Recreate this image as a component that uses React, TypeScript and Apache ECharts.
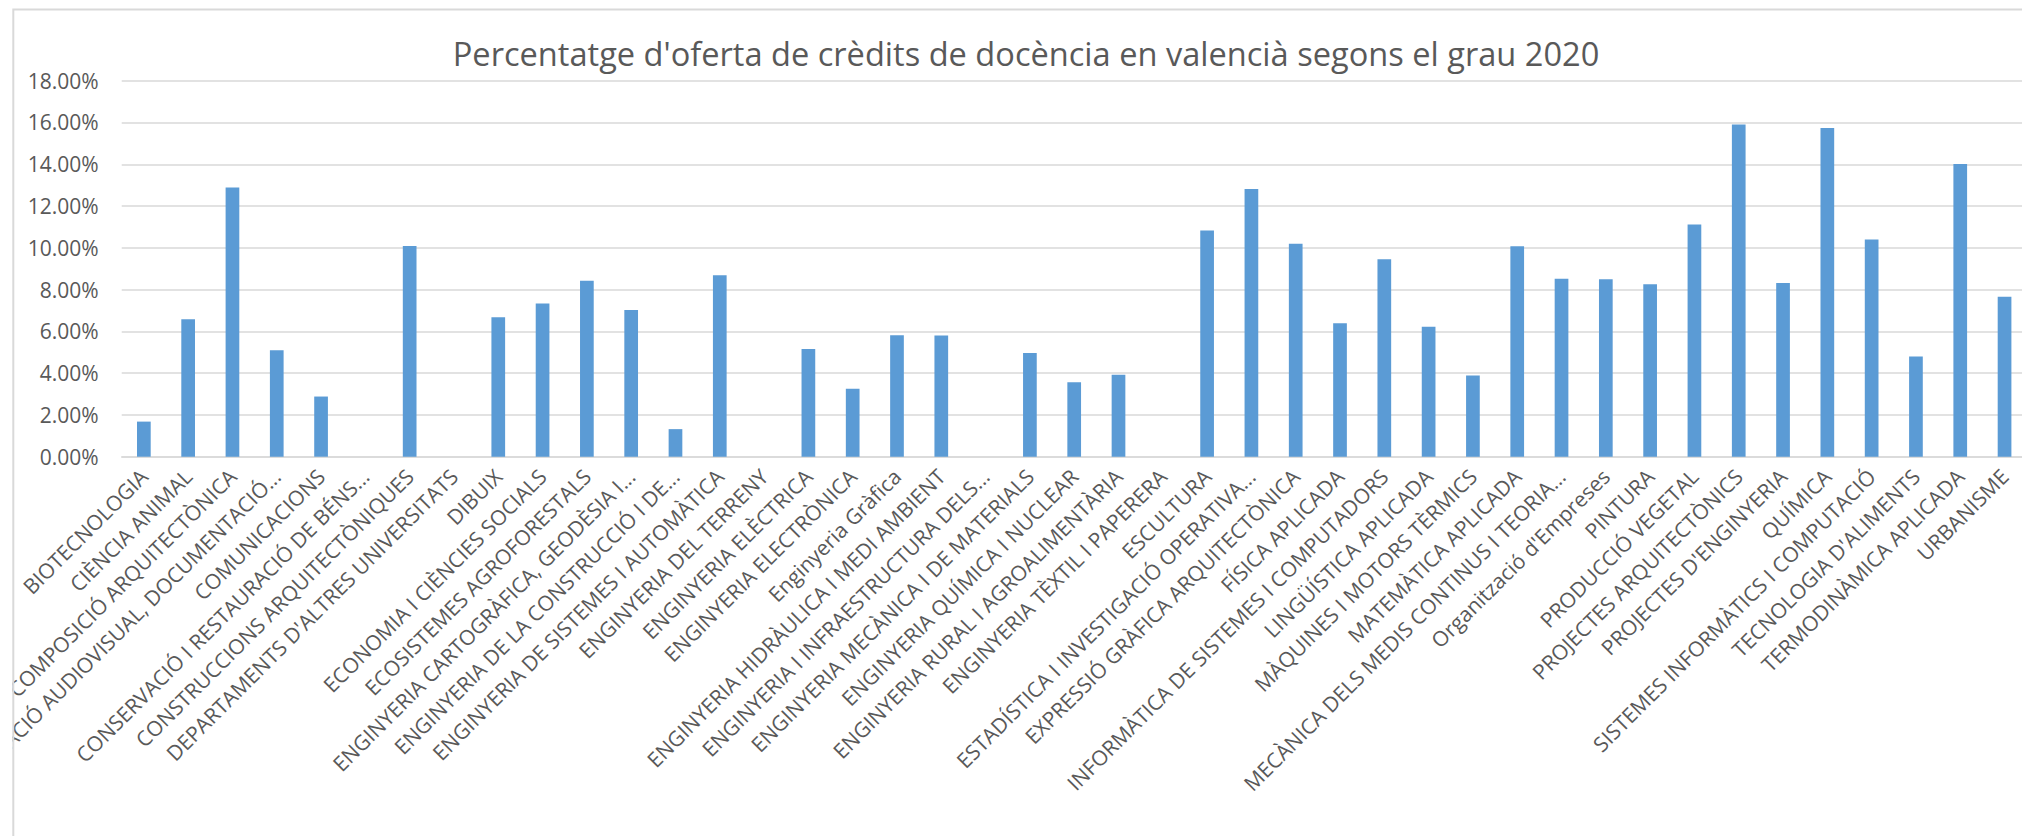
import React, { useEffect, useRef } from "react";
import * as echarts from "echarts";

const chartTitle =
  "Percentatge d'oferta de crèdits de docència en valencià segons el grau 2020";

const categories = [
  "BIOTECNOLOGIA",
  "CIÈNCIA ANIMAL",
  "COMPOSICIÓ ARQUITECTÒNICA",
  "COMUNICACIÓ AUDIOVISUAL, DOCUMENTACIÓ...",
  "COMUNICACIONS",
  "CONSERVACIÓ I RESTAURACIÓ DE BÉNS...",
  "CONSTRUCCIONS ARQUITECTÒNIQUES",
  "DEPARTAMENTS D'ALTRES UNIVERSITATS",
  "DIBUIX",
  "ECONOMIA I CIÈNCIES SOCIALS",
  "ECOSISTEMES AGROFORESTALS",
  "ENGINYERIA CARTOGRÀFICA, GEODÈSIA I...",
  "ENGINYERIA DE LA CONSTRUCCIÓ I DE...",
  "ENGINYERIA DE SISTEMES I AUTOMÀTICA",
  "ENGINYERIA DEL TERRENY",
  "ENGINYERIA ELÈCTRICA",
  "ENGINYERIA ELECTRÒNICA",
  "Enginyeria Gràfica",
  "ENGINYERIA HIDRÀULICA I MEDI AMBIENT",
  "ENGINYERIA I INFRAESTRUCTURA DELS...",
  "ENGINYERIA MECÀNICA I DE MATERIALS",
  "ENGINYERIA QUÍMICA I NUCLEAR",
  "ENGINYERIA RURAL I AGROALIMENTÀRIA",
  "ENGINYERIA TÈXTIL I PAPERERA",
  "ESCULTURA",
  "ESTADÍSTICA I INVESTIGACIÓ OPERATIVA...",
  "EXPRESSIÓ GRÀFICA ARQUITECTÒNICA",
  "FÍSICA APLICADA",
  "INFORMÀTICA DE SISTEMES I COMPUTADORS",
  "LINGÜÍSTICA APLICADA",
  "MÀQUINES I MOTORS TÈRMICS",
  "MATEMÀTICA APLICADA",
  "MECÀNICA DELS MEDIS CONTINUS I TEORIA...",
  "Organització d'Empreses",
  "PINTURA",
  "PRODUCCIÓ VEGETAL",
  "PROJECTES ARQUITECTÒNICS",
  "PROJECTES D'ENGINYERIA",
  "QUÍMICA",
  "SISTEMES INFORMÀTICS I COMPUTACIÓ",
  "TECNOLOGIA D'ALIMENTS",
  "TERMODINÀMICA APLICADA",
  "URBANISME",
];

// percentages
const values = [
  1.68, 6.58, 12.89, 5.1, 2.88, 0, 10.09, 0, 6.67, 7.33, 8.42, 7.02, 1.32,
  8.69, 0, 5.15, 3.25, 5.82, 5.8, 0, 4.96, 3.56, 3.92, 0, 10.83, 12.82, 10.2,
  6.39, 9.45, 6.22, 3.89, 10.08, 8.52, 8.5, 8.26, 11.11, 15.9, 8.32, 15.74,
  10.4, 4.8, 14.01, 7.66,
];

const yMin = 0;
const yMax = 18;
const yStep = 2;

const FONT = "'Open Sans', 'Noto Sans', sans-serif";
const TEXT_COLOR = "#595959";
const GRID_COLOR = "#d9d9d9";
const BAR_COLOR = "#5b9bd5";

export default function App() {
  const ref = useRef<HTMLDivElement>(null);

  useEffect(() => {
    if (!ref.current) return;
    const chart = echarts.init(ref.current, undefined, { renderer: "svg" });
    chart.setOption({
      animation: false,
      backgroundColor: "#ffffff",
      grid: {
        left: 121.7,
        top: 80.7,
        width: 1905,
        height: 376,
        containLabel: false,
        outerBoundsMode: "none",
      },
      xAxis: {
        type: "category",
        data: categories,
        boundaryGap: true,
        axisLine: { show: true, lineStyle: { color: GRID_COLOR, width: 1.5 } },
        axisTick: { show: false },
        axisLabel: {
          interval: 0,
          rotate: 45,
          margin: 16,
          color: TEXT_COLOR,
          fontFamily: FONT,
          fontSize: 21,
        },
      },
      yAxis: {
        type: "value",
        min: yMin,
        max: yMax,
        interval: yStep,
        axisLine: { show: false },
        axisTick: { show: false },
        splitLine: { show: true, lineStyle: { color: GRID_COLOR, width: 1.5 } },
        axisLabel: {
          margin: 23,
          color: TEXT_COLOR,
          fontFamily: FONT,
          fontSize: 21,
          formatter: (v: number) => v.toFixed(2) + "%",
        },
      },
      series: [
        {
          type: "bar",
          data: values,
          barWidth: 13.7,
          itemStyle: { color: BAR_COLOR },
        },
      ],
      graphic: [
        {
          type: "text",
          x: 1026,
          y: 53,
          z: 50,
          style: {
            text: chartTitle,
            fill: TEXT_COLOR,
            font: `32.6px ${FONT}`,
            textAlign: "center",
            textVerticalAlign: "middle",
          },
        },
        {
          type: "rect",
          z: 100,
          shape: { x: 0, y: 0, width: 12.5, height: 836 },
          style: { fill: "#ffffff" },
        },
        {
          type: "rect",
          z: 101,
          shape: { x: 13.3, y: 9.5, width: 2100, height: 900 },
          style: { fill: "none", stroke: GRID_COLOR, lineWidth: 2 },
        },
      ],
    });
    return () => chart.dispose();
  }, []);

  return (
    <div
      ref={ref}
      style={{ position: "absolute", left: 0, top: 0, width: 2022, height: 836 }}
    />
  );
}
